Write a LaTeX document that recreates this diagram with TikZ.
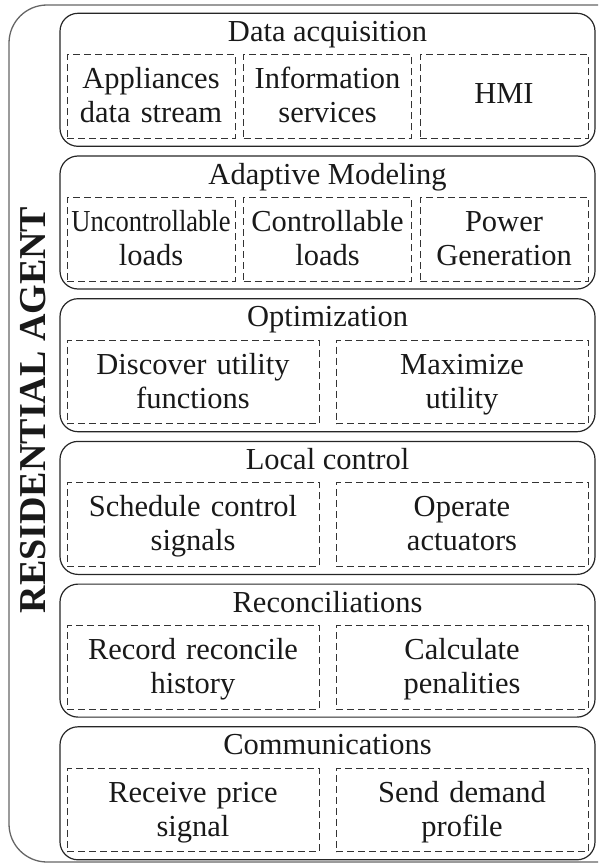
\documentclass[tikz,border=0pt]{standalone}
\usepackage{fontspec}
\setmainfont{Liberation Serif}
\usepackage{graphicx}
\begin{document}
\begin{tikzpicture}[x=1pt,y=-1pt,
  txt/.style={font=\fontsize{30.5}{34}\selectfont, text=black!90, inner sep=0pt, outer sep=0pt},
  outerframe/.style={draw=black!60, line width=1.3pt, rounded corners=38pt},
  grp/.style={draw=black!85, line width=1.2pt, rounded corners=18pt, minimum width=535pt, minimum height=133pt, anchor=north west, inner sep=0pt, outer sep=0pt},
  sub/.style={draw=black!80, line width=1pt, dash pattern=on 7pt off 4pt, minimum height=83.5pt, anchor=north west, inner sep=0pt, outer sep=0pt},
  subthree/.style={sub, minimum width=168pt},
  subtwo/.style={sub, minimum width=252pt},
  grptitle/.style={txt, anchor=base},
  lbl/.style={txt, anchor=base, align=center},
  lblthree/.style={lbl, text width=166pt},
  lbltwo/.style={lbl, text width=250pt},
]
\useasboundingbox (0,0) rectangle (598,867);
% outer frame
\draw[outerframe] (598,5) -- (9,5) -- (9,862) -- (598,862);
\node[font=\bfseries\fontsize{38}{40}\selectfont, text=black!90, rotate=90, anchor=base, inner sep=0pt] (ra) at (45,410) {RESIDENTIAL AGENT};

% Group 1: Data acquisition
\node[grp] (g1) at (60,13.3) {};
\node[grptitle] (t1) at (327.5,41.3) {Data acquisition};
\node[subthree] (s11) at (67,54.8) {};
\node[subthree] (s12) at (243.5,54.8) {};
\node[subthree] (s13) at (420,54.8) {};
\node[lblthree] (l11) at (151,88.8) {Appliances\\data stream};
\node[lblthree] (l12) at (327.5,88.8) {Information\\services};
\node[lblthree] (l13) at (504,103.3) {HMI};

% Group 2: Adaptive Modeling
\node[grp] (g2) at (60,156.0) {};
\node[grptitle] (t2) at (327.5,184.0) {Adaptive Modeling};
\node[subthree] (s21) at (67,197.5) {};
\node[subthree] (s22) at (243.5,197.5) {};
\node[subthree] (s23) at (420,197.5) {};
\node[lblthree] (l21) at (151,231.5) {\scalebox{0.87}[1]{Uncontrollable}\\loads};
\node[lblthree] (l22) at (327.5,231.5) {Controllable\\loads};
\node[lblthree] (l23) at (504,231.5) {Power\\Generation};

% Group 3: Optimization
\node[grp] (g3) at (60,298.7) {};
\node[grptitle] (t3) at (327.5,326.7) {Optimization};
\node[subtwo] (s31) at (67,340.2) {};
\node[subtwo] (s32) at (336,340.2) {};
\node[lbltwo] (l31) at (193,374.2) {Discover utility\\functions};
\node[lbltwo] (l32) at (462,374.2) {Maximize\\utility};

% Group 4: Local control
\node[grp] (g4) at (60,441.4) {};
\node[grptitle] (t4) at (327.5,469.4) {Local control};
\node[subtwo] (s41) at (67,482.9) {};
\node[subtwo] (s42) at (336,482.9) {};
\node[lbltwo] (l41) at (193,516.9) {Schedule control\\signals};
\node[lbltwo] (l42) at (462,516.9) {Operate\\actuators};

% Group 5: Reconciliations
\node[grp] (g5) at (60,584.1) {};
\node[grptitle] (t5) at (327.5,612.1) {Reconciliations};
\node[subtwo] (s51) at (67,625.6) {};
\node[subtwo] (s52) at (336,625.6) {};
\node[lbltwo] (l51) at (193,659.6) {Record reconcile\\history};
\node[lbltwo] (l52) at (462,659.6) {Calculate\\penalities};

% Group 6: Communications
\node[grp] (g6) at (60,726.8) {};
\node[grptitle] (t6) at (327.5,754.8) {Communications};
\node[subtwo] (s61) at (67,768.3) {};
\node[subtwo] (s62) at (336,768.3) {};
\node[lbltwo] (l61) at (193,802.3) {Receive price\\signal};
\node[lbltwo] (l62) at (462,802.3) {Send demand\\profile};
\end{tikzpicture}
\end{document}
